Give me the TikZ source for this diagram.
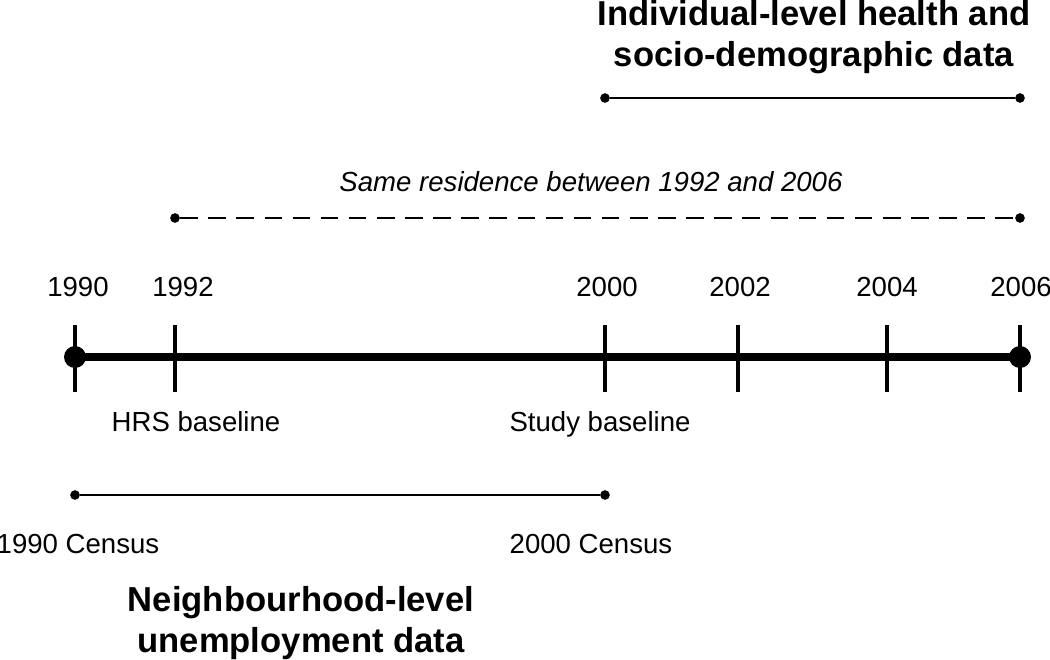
\documentclass[tikz,border=0pt]{standalone}
\usepackage{fontspec}
\setmainfont{Liberation Sans}
\begin{document}
\begin{tikzpicture}[x=0.02cm,y=-0.02cm,
  lbl/.style={font=\fontsize{15.7}{19}\selectfont, inner sep=0pt, anchor=base},
  ttl/.style={font=\fontsize{19.7}{23}\selectfont\bfseries, align=center, inner sep=0pt},
  bigdot/.style={circle, fill=black, inner sep=0pt, minimum size=12.5pt},
  smalldot/.style={circle, fill=black, inner sep=0pt, minimum size=5.5pt},
  tick/.style={line width=1.8pt},
  axis/.style={line width=4.6pt},
  span/.style={line width=1.1pt},
  dspan/.style={line width=1.1pt, dash pattern=on 10pt off 6pt}]
\useasboundingbox (0,0) rectangle (1050,659);
% main axis
\node[bigdot] (d1990) at (75,357) {};
\node[bigdot] (d2006) at (1020,357) {};
\draw[axis] (d1990.center) -- (d2006.center);
\foreach \n/\x in {t1/75,t2/175,t3/605,t4/738,t5/887,t6/1020}{
  \coordinate (\n a) at (\x,325);
  \coordinate (\n b) at (\x,392);
  \draw[tick] (\n a) -- (\n b);
}
% year labels
\node[lbl] (y1990) at (78,296) {1990};
\node[lbl] (y1992) at (183,296) {1992};
\node[lbl] (y2000) at (607,296) {2000};
\node[lbl] (y2002) at (740,296) {2002};
\node[lbl] (y2004) at (887,296) {2004};
\node[lbl] (y2006) at (1021,296) {2006};
\node[lbl] (hrs) at (196,431) {HRS baseline};
\node[lbl] (study) at (600,431) {Study baseline};
% census span
\node[smalldot] (c1) at (75,495) {};
\node[smalldot] (c2) at (605,495) {};
\draw[span] (c1) -- (c2);
\node[lbl] (c1990) at (78,553) {1990 Census};
\node[lbl] (c2000) at (591,553) {2000 Census};
\node[ttl] (neigh) at (301,623) {Neighbourhood-level\\unemployment data};
% residence span
\node[smalldot] (r1) at (175,218) {};
\node[smalldot] (r2) at (1020,218) {};
\draw[dspan] (r1) -- (r2);
\node[lbl, font=\fontsize{15.7}{19}\selectfont\itshape] (same) at (591,191) {Same residence between 1992 and 2006};
% individual span
\node[smalldot] (i1) at (605,98) {};
\node[smalldot] (i2) at (1020,98) {};
\draw[span] (i1) -- (i2);
\node[ttl] (indiv) at (814,37) {Individual-level health and\\socio-demographic data};
\end{tikzpicture}
\end{document}
